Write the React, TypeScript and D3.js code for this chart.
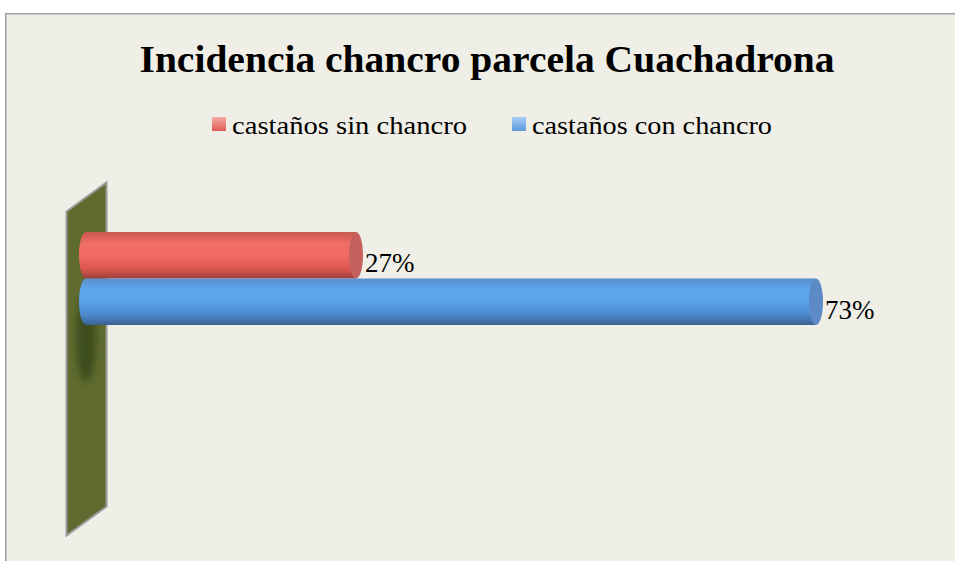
import React, { useEffect } from "react";
import * as d3 from "d3";

const categories = ["castaños sin chancro", "castaños con chancro"];
const values = [27, 73];
const labels = ["27%", "73%"];
const title = "Incidencia chancro parcela Cuachadrona";

const W = 955;
const H = 561;

export default function App() {
  useEffect(() => {
    document.body.style.margin = "0";
    document.body.style.overflow = "hidden";
  }, []);
  const x = d3.scaleLinear().domain([0, 80]).range([86, 886]);
  const y = d3.scaleBand<string>().domain(categories).range([232, 325]).padding(0);
  const rx = 7;
  const grads = [
    { id: "gRed", stops: ["#c95a54", "#f06e65", "#f26b62", "#d9564f", "#9c3e39"] },
    { id: "gBlue", stops: ["#5b8fcc", "#5fa6ee", "#5aa1ea", "#4a86c8", "#3a6090"] },
  ];
  const capColors = ["#c4615d", "#5b8ac6"];
  const legendGrads = [
    { id: "lRed", a: "#f6aaa3", b: "#df5d56" },
    { id: "lBlue", a: "#aacdf6", b: "#5a98dc" },
  ];
  const font = "'Liberation Serif', 'DejaVu Serif', serif";
  return (
    <svg width={W} height={H} style={{ position: "absolute", left: 0, top: 0, display: "block" }}>
      <defs>
        {grads.map((g) => (
          <linearGradient key={g.id} id={g.id} x1="0" y1="0" x2="0" y2="1">
            <stop offset="0" stopColor={g.stops[0]} />
            <stop offset="0.25" stopColor={g.stops[1]} />
            <stop offset="0.5" stopColor={g.stops[2]} />
            <stop offset="0.8" stopColor={g.stops[3]} />
            <stop offset="1" stopColor={g.stops[4]} />
          </linearGradient>
        ))}
        {legendGrads.map((g) => (
          <linearGradient key={g.id} id={g.id} x1="0" y1="0" x2="0" y2="1">
            <stop offset="0" stopColor={g.a} />
            <stop offset="1" stopColor={g.b} />
          </linearGradient>
        ))}
        <filter id="blur" x="-100%" y="-100%" width="300%" height="300%">
          <feGaussianBlur stdDeviation="3.5" />
        </filter>
      </defs>
      <rect x={0} y={0} width={W} height={H} fill="#ffffff" />
      <rect x={5} y={13} width={W - 5} height={H - 13} fill="#f0efe7" />
      <path d={`M5.75,${H} V13.75 H${W}`} fill="none" stroke="#a0a0a0" strokeWidth={1.5} />
      <text
        x={487}
        y={72}
        textAnchor="middle"
        fontFamily={font}
        fontWeight="bold"
        fontSize={37}
        textLength={695}
        lengthAdjust="spacingAndGlyphs"
        fill="#000"
      >
        {title}
      </text>
      {/* legend */}
      {[
        { sx: 212, tx: 232, tl: 235, g: "lRed" },
        { sx: 512, tx: 532, tl: 240, g: "lBlue" },
      ].map((l, i) => (
        <g key={i}>
          <rect x={l.sx} y={117} width={14} height={14} fill={`url(#${l.g})`} />
          <text
            x={l.tx}
            y={134}
            fontFamily={font}
            fontSize={25}
            textLength={l.tl}
            lengthAdjust="spacingAndGlyphs"
            fill="#000"
          >
            {categories[i]}
          </text>
        </g>
      ))}
      {/* wall */}
      <polygon points="66.5,211.5 106.5,182.5 106.5,506.5 66.5,535.5" fill="#5f6b2f" stroke="#9a9a9a" strokeWidth={2} />
      <ellipse cx={86} cy={338} rx={10} ry={44} fill="#3d4d1f" filter="url(#blur)" />
      {/* bars */}
      {categories.map((c, i) => {
        const y0 = y(c)!;
        const h = y.bandwidth();
        const cy = y0 + h / 2;
        const x0 = x(0);
        const x1 = x(values[i]);
        return (
          <g key={c}>
            <ellipse cx={x0} cy={cy} rx={rx} ry={h / 2} fill={`url(#${grads[i].id})`} />
            <rect x={x0} y={y0} width={x1 - x0} height={h} fill={`url(#${grads[i].id})`} />
            <ellipse cx={x1} cy={cy} rx={rx} ry={h / 2} fill={capColors[i]} />
          </g>
        );
      })}
      {/* labels */}
      {categories.map((c, i) => (
        <text
          key={c}
          x={x(values[i]) + rx + 2}
          y={i === 0 ? 272 : 319}
          fontFamily={font}
          fontSize={27}
          fill="#000"
        >
          {labels[i]}
        </text>
      ))}
    </svg>
  );
}
